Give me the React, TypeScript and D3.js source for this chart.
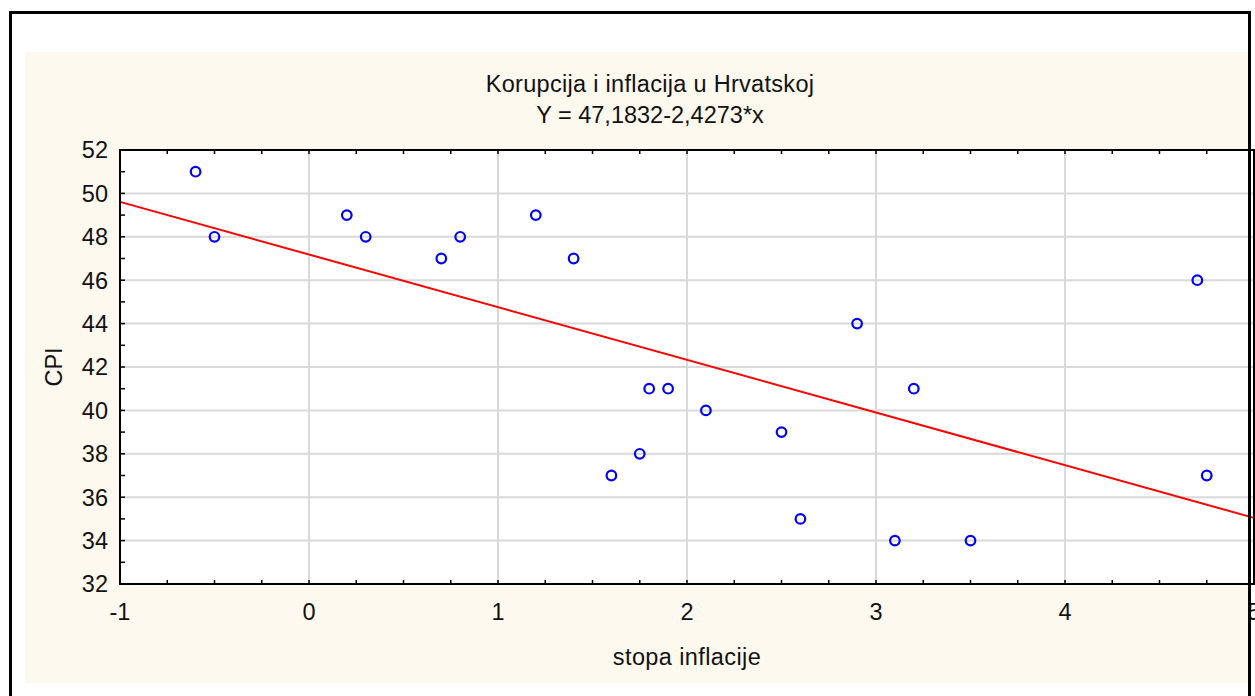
import React from "react";
import * as d3 from "d3";

// Data
const inflation = [-0.6, -0.5, 0.2, 0.3, 0.7, 0.8, 1.2, 1.4, 1.6, 1.75, 1.8, 1.9, 2.1, 2.5, 2.6, 2.9, 3.1, 3.2, 3.5, 4.7, 4.75];
const cpi = [51, 48, 49, 48, 47, 48, 49, 47, 37, 38, 41, 41, 40, 39, 35, 44, 34, 41, 34, 46, 37];

// Regression line from the subtitle
const intercept = 47.1832;
const slope = -2.4273;

const xTicks = [-1, 0, 1, 2, 3, 4, 5];
const yTicks = [32, 34, 36, 38, 40, 42, 44, 46, 48, 50, 52];

const title = "Korupcija i inflacija u Hrvatskoj";
const subtitle = "Y = 47,1832-2,4273*x";
const xLabel = "stopa inflacije";
const yLabel = "CPI";

export default function App() {
  const width = 1255;
  const height = 696;
  const marginLeft = 120;
  const marginTop = 150;
  const plotRight = 1254;
  const plotBottom = 584;
  const font = "'Liberation Sans', Arial, sans-serif";

  const x = d3.scaleLinear().domain([-1, 5]).range([marginLeft, plotRight]);
  const y = d3.scaleLinear().domain([32, 52]).range([plotBottom, marginTop]);

  const points = inflation.map((v, i) => ({ x: v, y: cpi[i] }));
  const fit = d3
    .line<number>()
    .x(d => x(d))
    .y(d => y(intercept + slope * d));

  const xMinor = d3.range(-1, 5.001, 0.25);
  const yMinor = d3.range(32, 52.001, 1);

  return (
    <svg
      width={width}
      height={height}
      style={{ position: "absolute", left: 0, top: 0, background: "#fff" }}
      fontFamily={font}
    >
      <rect x={25} y={52} width={1223} height={631} fill="#fef9ef" />

      {/* plot area */}
      <rect x={marginLeft} y={marginTop} width={plotRight - marginLeft} height={plotBottom - marginTop} fill="#fff" />

      <g stroke="#d9d9d9" strokeWidth={2}>
        {xTicks.slice(1, -1).map(t => (
          <line key={"gx" + t} x1={x(t)} x2={x(t)} y1={marginTop} y2={plotBottom} />
        ))}
        {yTicks.slice(1, -1).map(t => (
          <line key={"gy" + t} x1={marginLeft} x2={plotRight} y1={y(t)} y2={y(t)} />
        ))}
      </g>

      <path d={fit([-1, 5]) ?? ""} fill="none" stroke="#ff0000" strokeWidth={2} />

      <g fill="none" stroke="#0000ff" strokeWidth={2.2}>
        {points.map((p, i) => (
          <circle key={i} cx={x(p.x)} cy={y(p.y)} r={4.8} />
        ))}
      </g>

      {/* frame and inner ticks */}
      <rect
        x={marginLeft}
        y={marginTop}
        width={plotRight - marginLeft}
        height={plotBottom - marginTop}
        fill="none"
        stroke="#000"
        strokeWidth={2}
      />
      <g stroke="#000" strokeWidth={1.5}>
        {xMinor.map(t => (
          <g key={"tx" + t}>
            <line x1={x(t)} x2={x(t)} y1={marginTop} y2={marginTop + 4} />
            <line x1={x(t)} x2={x(t)} y1={plotBottom} y2={plotBottom - 4} />
          </g>
        ))}
        {yMinor.map(t => (
          <line key={"ty" + t} x1={marginLeft} x2={marginLeft + 5} y1={y(t)} y2={y(t)} />
        ))}
      </g>

      <g fontSize={23.5} fill="#111">
        {yTicks.map(t => (
          <text key={"ly" + t} x={108} y={y(t)} dy="0.36em" textAnchor="end">
            {t}
          </text>
        ))}
        {xTicks.map(t => (
          <text key={"lx" + t} x={x(t)} y={620} textAnchor="middle">
            {t}
          </text>
        ))}
        <text x={(marginLeft + plotRight) / 2} y={665} textAnchor="middle" letterSpacing={0.4}>
          {xLabel}
        </text>
        <text transform={`translate(62,${(marginTop + plotBottom) / 2}) rotate(-90)`} textAnchor="middle">
          {yLabel}
        </text>
        <text x={650} y={92} textAnchor="middle" letterSpacing={0.3}>
          {title}
        </text>
        <text x={650} y={123} textAnchor="middle">
          {subtitle}
        </text>
      </g>

      {/* outer border */}
      <path d="M10.5,700 V12.5 H1249.5 V700" fill="none" stroke="#000" strokeWidth={3} />
    </svg>
  );
}
